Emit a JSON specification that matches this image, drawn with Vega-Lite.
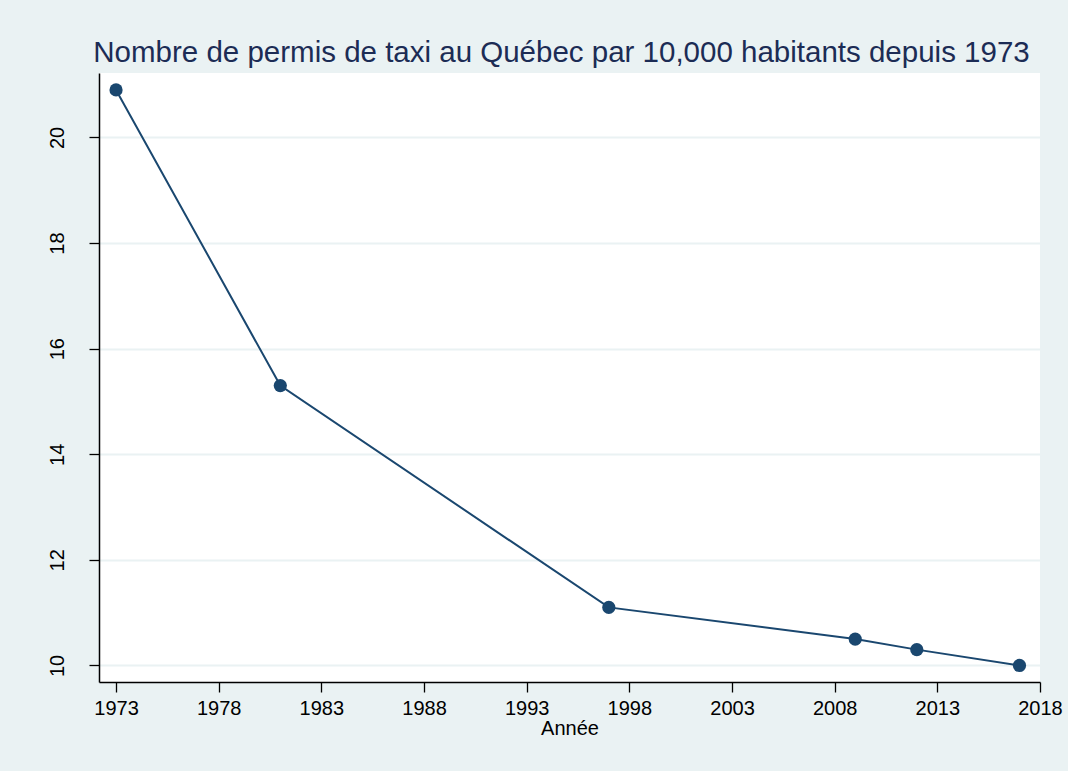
{
  "$schema": "https://vega.github.io/schema/vega-lite/v6.json",
  "autosize": {"type": "none"},
  "padding": {"left": 99, "top": 73, "right": 28, "bottom": 89},
  "width": 941,
  "height": 609,
  "background": "#EAF2F3",
  "title": {
    "text": "Nombre de permis de taxi au Québec par 10,000 habitants depuis 1973",
    "font": "Liberation Sans",
    "fontSize": 29.5,
    "fontWeight": "normal",
    "color": "#1c2c55",
    "anchor": "middle",
    "baseline": "alphabetic",
    "offset": 10,
    "dx": -8,
    "dy": 28
  },
  "config": {
    "view": {"fill": "white", "stroke": null},
    "font": "Liberation Sans"
  },
  "data": {
    "values": [
      {"annee": 1973, "permis": 20.9},
      {"annee": 1981, "permis": 15.3},
      {"annee": 1997, "permis": 11.1},
      {"annee": 2009, "permis": 10.5},
      {"annee": 2012, "permis": 10.3},
      {"annee": 2017, "permis": 10.0}
    ]
  },
  "encoding": {
    "x": {
      "field": "annee",
      "type": "quantitative",
      "scale": {"domain": [1972.17, 2018], "nice": false, "zero": false},
      "axis": {
        "title": "Année",
        "titleFont": "Liberation Sans",
        "titleFontSize": 20,
        "titleFontWeight": "normal",
        "titleColor": "black",
        "titlePadding": 0,
        "values": [1973, 1978, 1983, 1988, 1993, 1998, 2003, 2008, 2013, 2018],
        "format": "d",
        "labelFontSize": 20,
        "labelColor": "black",
        "labelPadding": 6,
        "labelFlush": false,
        "labelOverlap": false,
        "tickSize": 10,
        "tickColor": "black",
        "tickWidth": 1.3,
        "domainColor": "black",
        "domainWidth": 1.5,
        "grid": false
      }
    },
    "y": {
      "field": "permis",
      "type": "quantitative",
      "scale": {"domain": [9.687, 21.22], "nice": false, "zero": false},
      "axis": {
        "title": null,
        "values": [10, 12, 14, 16, 18, 20],
        "labelFontSize": 20,
        "labelColor": "black",
        "labelAngle": -90,
        "labelAlign": "center",
        "labelBaseline": "alphabetic",
        "labelPadding": 26,
        "tickSize": 10,
        "tickColor": "black",
        "tickWidth": 1.3,
        "domainColor": "black",
        "domainWidth": 1.5,
        "grid": true,
        "gridColor": "#EAF2F3",
        "gridWidth": 2
      }
    }
  },
  "layer": [
    {"mark": {"type": "line", "color": "#1a476f", "strokeWidth": 2}},
    {"mark": {"type": "point", "filled": true, "opacity": 1, "color": "#1a476f", "size": 175}}
  ]
}
